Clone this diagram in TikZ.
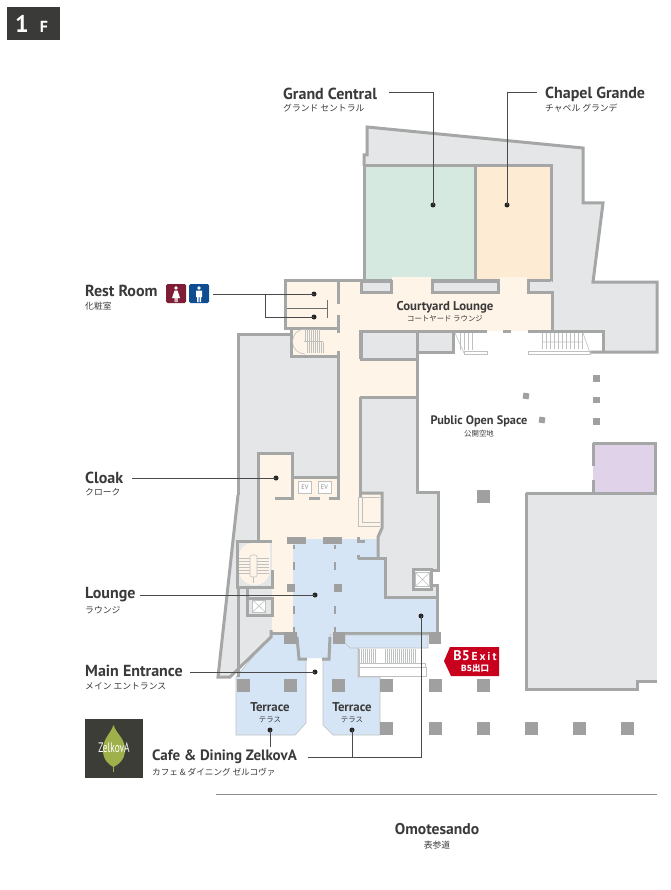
\documentclass[tikz,border=0pt]{standalone}
\usepackage{fontspec}
\setmainfont{PT Sans}
\newfontfamily\jpfont{Noto Sans CJK JP}
\definecolor{wallc}{HTML}{A5A7A7}
\definecolor{grayfill}{HTML}{E5E6E8}
\definecolor{greenfill}{HTML}{D5E9E0}
\definecolor{orangefill}{HTML}{FDEBD3}
\definecolor{creamfill}{HTML}{FFF4E8}
\definecolor{bluefill}{HTML}{D5E5F6}
\definecolor{purplefill}{HTML}{E0D2E8}
\definecolor{colc}{HTML}{A0A0A0}
\definecolor{txt}{HTML}{3A3A3A}
\definecolor{thin}{HTML}{BFC1C1}
\definecolor{leaderc}{HTML}{4A4A4A}
\definecolor{exitred}{HTML}{C8001E}
\definecolor{badge}{HTML}{3A3A38}
\definecolor{logobg}{HTML}{3D3D37}
\definecolor{leaf}{HTML}{9DB04A}
\definecolor{maroon}{HTML}{7F1D36}
\definecolor{navyb}{HTML}{0F4C92}
\tikzset{
  wall/.style={draw=wallc,line width=3pt,line join=miter},
  thinline/.style={draw=thin,line width=0.6pt},
  leader/.style={draw=leaderc,line width=0.9pt},
  dotm/.style={circle,fill=black!85,inner sep=0,minimum size=5pt},
  lab/.style={anchor=west,inner sep=0,text=txt,font=\fontsize{16}{17}\selectfont\bfseries},
  jp/.style={anchor=west,inner sep=0,text=txt,font=\fontsize{8.8}{10}\selectfont\jpfont},
  clab/.style={anchor=center,inner sep=0,text=txt,font=\fontsize{12.8}{14}\selectfont\bfseries},
  cjp/.style={anchor=center,inner sep=0,text=txt,font=\fontsize{7.4}{8}\selectfont\jpfont},
  col/.style={fill=colc},
}
\newcommand{\colbox}[2]{\fill[col] (#1-6.5,#2-6.5) rectangle (#1+6.5,#2+6.5);}
\begin{document}
\begin{tikzpicture}[x=1pt,y=-1pt]
\useasboundingbox (0,0) rectangle (670,890);
\fill[white] (0,0) rectangle (670,890);
% --- gray fills
\fill[grayfill] (364,166)--(364,155)--(367,155)--(367,127)--(583,148)--(583,203)--(603,203)--(593,282)--(657,282)--(657,352)--(603,352)--(603,331)--(552,331)--(552,280)--(364,280)--cycle;
\fill[grayfill] (238,334)--(291,334)--(291,356)--(338,356)--(338,477)--(292,477)--(292,453)--(258,453)--(258,541)--(272,541)--(272,640)--(230,677)--(218,677)--(238,495)--cycle;
\fill[grayfill] (361,330)--(382,330)--(382,332)--(453,332)--(453,352)--(417,352)--(417,359)--(361,359)--cycle;
\fill[grayfill] (360,397)--(417,397)--(417,492)--(438,492)--(438,570)--(433,570)--(433,585)--(437,585)--(437,597)--(385,597)--(385,558)--(378,558)--(378,537)--(382,528)--(382,493)--(360,493)--cycle;
\fill[grayfill] (526,493) rectangle (657,681);
\fill[grayfill] (526,681) rectangle (637,689);
% --- rooms
\fill[creamfill] (285,280)--(552,280)--(552,331)--(360,331)--(360,359)--(416,359)--(416,397)--(360,397)--(360,493)--(382,493)--(382,528)--(378,537)--(378,540)--(293,540)--(293,632)--(272,632)--(272,541)--(258,541)--(258,453)--(292,453)--(292,477)--(338,477)--(338,356)--(291,356)--(291,327)--(285,327)--cycle;
\fill[bluefill] (293,539)--(378,539)--(378,558)--(385,558)--(385,597)--(437,597)--(437,633)--(330,633)--(329,658)--(300,658)--(297,633)--(293,633)--cycle;
\draw[wall,fill=greenfill] (364,166) rectangle (475,280);
\draw[wall,fill=orangefill] (475,166) rectangle (551,280);
\fill[creamfill] (392,277) rectangle (431,283);
\fill[creamfill] (500,277) rectangle (527,283);
\draw[wall,fill=grayfill] (361,281) rectangle (391,292);
\draw[wall,fill=grayfill] (432,281) rectangle (498,292);
\fill[creamfill] (500,281) rectangle (527,300);
\fill[grayfill] (530,281) rectangle (552,290.5);
\fill[purplefill] (593,443) rectangle (656,493);
% --- terraces
\draw[thinline,fill=bluefill] (272,634)--(297,634)--(299,659)--(306,659)--(306,723)--(295,735)--(236,735)--(236,677)--cycle;
\draw[thinline,fill=bluefill] (330,634)--(345,634)--(345,643)--(358,648)--(358,677)--(380,677)--(380,735)--(333,735)--(323,725)--(323,660)--(330,660)--cycle;
% --- walls
\draw[wall] (364,166)--(364,155)--(367,155)--(367,127)--(583,148)--(583,203)--(603,203)--(593,282)--(657,282)--(657,352)--(590,352);
\draw[wall] (528,280)--(551,280);
\draw[wall] (528,280)--(528,292)--(552,292)--(552,331);
\draw[wall] (361,331)--(361,359)--(417,359);
\draw[wall] (360,331)--(382,331)--(487,331);
\draw[wall] (503,331)--(511,331);
\draw[wall] (528,331)--(603,331)--(603,352);
\draw[wall] (453,332)--(453,352)--(417,352);
\draw[wall] (417,332)--(417,492)--(438,492)--(438,570)--(433,570);
\draw[wall] (433,585)--(437,585)--(437,633);
\draw[wall] (285,280)--(364,280);
\draw[wall] (338,304)--(338,280);
\draw[wall] (285,278.5)--(285,328)--(338,328);
\draw[wall] (338,315)--(338,333);
\draw[wall] (291,328)--(291,356)--(338,356)--(338,351);
\draw[wall] (338,354)--(338,477)--(293,477);
\draw[wall] (238,495)--(238,334)--(291,334);
\draw[wall] (238,495)--(218,677)--(230,677)--(271,637)--(271,630);
\draw[wall] (258,541)--(258,453)--(292,453)--(292,498)--(275,498);
\draw[wall] (309,498)--(320,498);
\draw[wall] (329,498)--(338,498)--(338,477);
\draw[wall] (360,330)--(360,359);
\draw[wall] (360,397)--(417,397);
\draw[wall] (360,397)--(360,497);
\draw[wall] (360,493)--(382,493)--(382,528)--(378,537)--(378,558);
\draw[wall] (358,558)--(385,558)--(385,597)--(437,597);
\draw[wall] (358,555)--(358,559);
\draw[wall] (358,537)--(358,541)--(365,541);
\draw[wall] (237,541)--(272,541);
\draw[wall] (237,539.5)--(237,587)--(272,587)--(272,570);
\draw[wall] (247,587)--(247,615)--(272,615)--(272,598)--(247,598);
\draw[wall] (238,587)--(238,677);
\draw[wall] (297,637)--(299,659)--(307,659);
\draw[wall] (330,637)--(329,659)--(322,659);
\draw[wall] (270,633)--(284,633);
\draw[wall] (345,633)--(438,633);
\draw[wall] (526,493)--(657,493);
\draw[wall] (526,493)--(526,689)--(637,689)--(637,681)--(657,681);
\draw[wall] (655,443)--(655,493);
\draw[wall] (593,443)--(656.5,443);
\draw[wall] (593,443)--(593,466);
\draw[wall] (593,480)--(593,493);
% canopy
\draw[thinline,fill=bluefill] (345,635)--(428,635)--(428,648)--(350,648)--(345,643)--cycle;
% small cream room inner lines
\draw[thinline] (358,497)--(380,497) (362,497)--(362,522)--(380,522) (358,497)--(358,526)--(380,526);
% rest room fixtures
\draw[draw=leaderc!80,line width=0.8pt] (287,308)--(327,308) (327,300)--(327,318);
% stairs (north-west)
\draw[thinline] (305,329) arc[start angle=270,end angle=90,radius=12.5];
\foreach \x in {305,307,...,319}{\draw[thinline] (\x,329)--(\x,341);}
\foreach \x in {307,309,...,323}{\draw[thinline] (\x,342)--(\x,353);}
\draw[thinline,line width=1.2pt] (304,341.5)--(323,341.5);
% courtyard stairs
\foreach \x in {460,464,468,472}{\draw[thinline] (\x,333)--(\x,350);}
\draw[thinline] (455,333)--(464,353);
\draw[thinline] (464,351) rectangle (487,354);
\foreach \x in {542,546,...,582}{\draw[thinline] (\x,333)--(\x,349);}
\draw[thinline] (542,342)--(583,342) (583,333)--(590,353);
\draw[thinline] (528,351) rectangle (590,354);
% south-west stair
\fill[creamfill] (239,556) arc[start angle=180,end angle=270,radius=13]--(270,543)--(270,570) arc[start angle=0,end angle=90,radius=15]--(254,585) arc[start angle=90,end angle=180,radius=15]--cycle;
\foreach \y in {558,561,...,573}{\draw[thinline] (238.5,\y)--(250,\y) (257,\y)--(269,\y);}
\draw[thinline,fill=creamfill,rounded corners=2pt] (250,555) rectangle (257,577);
\draw[thinline] (253.5,577)--(253.5,583);
% elevators
\node[draw=thin,fill=white,line width=1pt,minimum width=13pt,minimum height=12pt,inner sep=0] (evx1) at (259,606) {};
\draw[thinline] (evx1.north west)--(evx1.south east) (evx1.north east)--(evx1.south west);
\draw[wall,fill=white,line width=2.5pt] (413.5,569.5) rectangle (431.5,589.5);
\node[draw=thin,fill=white,line width=1pt,minimum width=14pt,minimum height=14pt,inner sep=0] (evx2) at (422.5,579.5) {};
\draw[thinline] (evx2.north west)--(evx2.south east) (evx2.north east)--(evx2.south west);
\node[draw=thin,fill=white,line width=1pt,minimum width=13pt,minimum height=12pt,inner sep=0,text=black!45,font=\fontsize{6.5}{7}\selectfont] (ev1) at (305,487) {EV};
\node[draw=thin,fill=white,line width=1pt,minimum width=13pt,minimum height=12pt,inner sep=0,text=black!45,font=\fontsize{6.5}{7}\selectfont] (ev2) at (324.5,487) {EV};
% south stairs
\foreach \x in {359,361,...,375}{\draw[thinline] (\x,649)--(\x,663);}
\foreach \x in {385,387,...,415}{\draw[thinline] (\x,649)--(\x,663);}
\draw[thinline] (358,648)--(358,677);
\draw[thinline] (359,663) rectangle (425,667);
\draw[thinline,fill=white] (359,667) rectangle (426,676);
% columns
\fill[col] (287,537) rectangle (306,544);
\fill[col] (323,537) rectangle (342,544);
\foreach \x in {293,334}{
  \fill[col] (\x,562) rectangle (\x+2,570);
  \fill[col] (\x,606) rectangle (\x+2,614);
  \fill[col] (\x,627) rectangle (\x+2,632);
  \fill[col] (\x,545) rectangle (\x+2,549);
}
\fill[col] (287,584) rectangle (295,592);
\fill[col] (334,584) rectangle (342,592);
\fill[col] (284,632) rectangle (297,644);
\fill[col] (333,632) rectangle (345,644);
\fill[col] (429,632) rectangle (441,644);
\foreach \x in {243,290,338.5,386.5,435,483.5}{\colbox{\x}{685}}
\foreach \x in {386.5,435,483.5,531,579.5,627.5}{\colbox{\x}{728.5}}
\colbox{483.5}{496.5}
\foreach \y in {378.5,400,421.5}{\fill[col] (593,\y-3.2) rectangle (599.5,\y+3.2);}
\fill[col,rotate around={-8:(526,396)}] (523,393) rectangle (529,399);
\fill[col,rotate around={-8:(542,420)}] (539,417) rectangle (545,423);
% Omotesando line
\draw[draw=black!45,line width=0.7pt] (216,794)--(657,794);
% badge
\node[fill=badge,minimum width=53pt,minimum height=33pt,inner sep=0] (badgebox) at (33.5,23.5) {};
\node[text=white,font=\fontsize{24}{25}\selectfont\bfseries,inner sep=0] (badge1) at (22,24) {1};
\node[text=white,font=\fontsize{16}{17}\selectfont\bfseries,inner sep=0] (badgef) at (44,27) {F};
% logo
\node[fill=logobg,minimum width=58pt,minimum height=59pt,inner sep=0] (logobox) at (114,748.5) {};
\fill[leaf] (113.5,725) .. controls (110,735) and (103,738) .. (103,750) .. controls (103,760) and (109,765) .. (113.5,767) .. controls (118,765) and (125,760) .. (125,750) .. controls (125,738) and (117,735) .. (113.5,725)--cycle;
\draw[leaf,line width=1pt] (113.5,767)--(113.5,772);
\node[text=white,inner sep=0,font=\fontsize{11}{12}\selectfont] (logotext) at (114,748) {\scalebox{0.85}[1.25]{ZelkovA}};
% rest room icons
\fill[rounded corners=1.5pt,fill=maroon] (166,284) rectangle (186,303);
\fill[white] (176,288) circle (1.8);
\fill[white] (174.5,290.5)--(177.5,290.5)--(180,298)--(177.5,298)--(177.5,302)--(176.4,302)--(176.4,298)--(175.6,298)--(175.6,302)--(174.5,302)--(174.5,298)--(172,298)--cycle;
\fill[rounded corners=1.5pt,fill=navyb] (189,284) rectangle (209,303);
\fill[white] (199,288) circle (1.8);
\fill[white] (196,290.5)--(202,290.5)--(202,297)--(201,297)--(201,302)--(199.5,302)--(199.5,297)--(198.5,297)--(198.5,302)--(197,302)--(197,297)--(196,297)--cycle;
% exit sign
\fill[exitred] (450,647)--(499,647)--(499,676)--(451,676)--(444,661)--cycle;
\node[text=white,inner sep=0,font=\fontsize{11.5}{13}\selectfont\bfseries] (exit1) at (475,656) {{\fontsize{14}{14}\selectfont B5}\,E\,x\,i\,t};
\node[text=white,inner sep=0,font=\fontsize{8.5}{9}\selectfont\jpfont\bfseries] (exit2) at (475,668) {B5出口};
% labels
\node[lab] (gc) at (283,94) {Grand Central};
\node[jp] (gcj) at (283,108.5) {グランド セントラル};
\node[lab] (cg) at (545,94) {Chapel Grande};
\node[jp] (cgj) at (545,108.5) {チャペル グランデ};
\node[lab] (rr) at (85,291) {Rest Room};
\node[jp] (rrj) at (85,306) {化粧室};
\node[lab] (cl) at (85,478) {Cloak};
\node[jp] (clj) at (85,492.5) {クローク};
\node[lab] (lo) at (85,595) {Lounge};
\node[jp] (loj) at (85,610) {ラウンジ};
\node[lab] (me) at (85,671) {Main Entrance};
\node[jp] (mej) at (85,686.5) {メイン エントランス};
\node[lab,font=\fontsize{15}{16}\selectfont\bfseries] (cd) at (152,757) {Cafe \& Dining ZelkovA};
\node[jp,font=\fontsize{8.6}{10}\selectfont\jpfont] (cdj) at (152,772.5) {カフェ \& ダイニング ゼルコヴァ};
\node[clab] (cy) at (445,307) {Courtyard Lounge};
\node[cjp] (cyj) at (445,318.5) {コートヤード ラウンジ};
\node[clab,font=\fontsize{12.3}{14}\selectfont\bfseries] (po) at (479,421) {Public Open Space};
\node[cjp] (poj) at (479,433.5) {公開空地};
\node[clab] (t1) at (270,707) {Terrace};
\node[cjp] (t1j) at (270,719.5) {テラス};
\node[clab] (t2) at (352,707) {Terrace};
\node[cjp] (t2j) at (352,719.5) {テラス};
\node[lab,anchor=center,font=\fontsize{15.6}{17}\selectfont\bfseries] (om) at (437,829) {Omotesando};
\node[jp,anchor=center] (omj) at (437,845) {表参道};
% leaders
\node[dotm] (dgc) at (433,205) {};
\node[dotm] (dcg) at (507,205) {};
\node[dotm] (drr1) at (314,294) {};
\node[dotm] (drr2) at (314,317) {};
\node[dotm] (dcl) at (276,478) {};
\node[dotm] (dlo) at (315,595) {};
\node[dotm] (dme) at (315,672) {};
\node[dotm] (dt1) at (270,730) {};
\node[dotm] (dt2) at (352,730) {};
\node[dotm] (dcf) at (421,616) {};
\coordinate (sgc) at (389,92);
\coordinate (scg) at (537,92);
\coordinate (srr) at (213,294);
\coordinate (brr) at (265,294);
\coordinate (scl) at (132,478);
\coordinate (slo) at (140,595);
\coordinate (sme) at (190,672);
\coordinate (scf) at (308,757);
\coordinate (et1) at (270,747);
\coordinate (bcf) at (352,757);
\draw[leader] (sgc) -| (dgc.center);
\draw[leader] (scg) -| (dcg.center);
\draw[leader] (srr) -- (drr1.center);
\draw[leader] (brr) |- (drr2.center);
\draw[leader] (scl) -- (dcl.center);
\draw[leader] (slo) -- (dlo.center);
\draw[leader] (sme) -- (dme.center);
\draw[leader] (dt1.center) -- (et1);
\draw[leader] (scf) -| (dcf.center);
\draw[leader] (bcf) -- (dt2.center);
\end{tikzpicture}
\end{document}
